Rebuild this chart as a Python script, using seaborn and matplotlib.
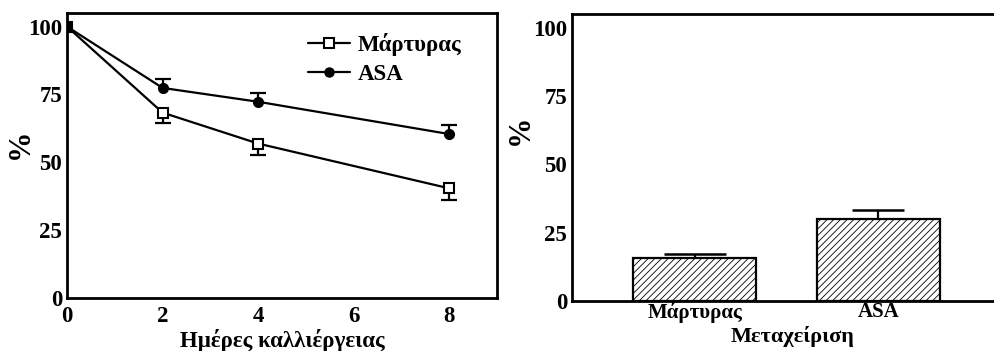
import numpy as np
import pandas as pd
import matplotlib
matplotlib.use("Agg")
import matplotlib.pyplot as plt
import seaborn as sns
from matplotlib.lines import Line2D

# Time course (days of culture) and percentages
days = [0, 2, 4, 8]
control_pct = [100, 68.3, 56.9, 40.4]
asa_pct = [100, 77.4, 72.3, 60.4]
err_days = [2, 4, 8]
control_err = [3.9, 4.3, 4.2]
asa_err = [3.3, 3.3, 3.4]

# Treatment comparison
treatments = ["Μάρτυρας", "ASA"]
treat_pct = [15.6, 30.1]
treat_err = [1.5, 3.2]

sns.set_theme(style="white")
plt.rcParams["font.family"] = ["Liberation Serif", "DejaVu Serif"]
plt.rcParams["font.weight"] = "bold"
plt.rcParams["hatch.linewidth"] = 0.6
for key in ("text.color", "axes.labelcolor", "xtick.color", "ytick.color"):
    plt.rcParams[key] = "black"

fig = plt.figure(figsize=(9.95, 3.51), dpi=100)
ax1 = fig.add_axes([67 / 995, 1 - 298 / 351, 430 / 995, 285 / 351])
ax2 = fig.add_axes([572 / 995, 1 - 301 / 351, 442 / 995, 287 / 351])

fs = 16.5
lw = 1.6

# Left panel: line chart
df = pd.DataFrame({
    "day": days * 2,
    "pct": control_pct + asa_pct,
    "group": ["Μάρτυρας"] * 4 + ["ASA"] * 4,
})
sns.lineplot(data=df, x="day", y="pct", hue="group", style="group",
             palette={"Μάρτυρας": "black", "ASA": "black"},
             markers={"Μάρτυρας": "s", "ASA": "o"},
             dashes={"Μάρτυρας": "", "ASA": ""},
             markersize=7, linewidth=lw, ax=ax1, legend=False)
for line, face in zip(ax1.get_lines(), ["white", "black"]):
    line.set_markerfacecolor(face)
    line.set_markeredgecolor("black")
    line.set_markeredgewidth(1.5)
    line.set_zorder(3)
ax1.get_lines()[1].set_markersize(6.5)

ctrl_at = [control_pct[days.index(d)] for d in err_days]
asa_at = [asa_pct[days.index(d)] for d in err_days]
eb = ax1.errorbar(err_days, ctrl_at, yerr=[control_err, [0] * 3], fmt="none",
                  ecolor="black", elinewidth=lw, capsize=6, capthick=lw, zorder=2)
eb[1][1].set_visible(False)
eb = ax1.errorbar(err_days, asa_at, yerr=[[0] * 3, asa_err], fmt="none",
                  ecolor="black", elinewidth=lw, capsize=6, capthick=lw, zorder=2)
eb[1][0].set_visible(False)

ax1.set_xlim(0, 9)
ax1.set_ylim(0, 105)
ax1.set_xticks([0, 2, 4, 6, 8])
ax1.set_yticks([0, 25, 50, 75, 100])
ax1.set_xlabel("Ημέρες καλλιέργειας", fontsize=fs, fontweight="bold")
ax1.set_ylabel("%", fontsize=22, fontweight="bold")
ax1.yaxis.set_label_coords((35 - 67) / 430, 0.54)
ax1.xaxis.set_label_coords(0.5, -(329 - 298) / 285)

handles = [
    Line2D([], [], color="black", lw=lw, marker="s", markersize=7,
           markerfacecolor="white", markeredgewidth=1.5),
    Line2D([], [], color="black", lw=lw, marker="o", markersize=6.5,
           markerfacecolor="black"),
]
ax1.legend(handles, treatments, loc="upper left", frameon=False,
           prop={"size": fs, "weight": "bold"}, handlelength=1.83,
           handletextpad=0.35, borderpad=0, borderaxespad=0, labelspacing=0.35,
           bbox_to_anchor=((308 - 67) / 430, (298 - 33) / 285))

# Right panel: bar chart
dfb = pd.DataFrame({"treatment": treatments, "pct": treat_pct})
sns.barplot(data=dfb, x="treatment", y="pct", color="white", width=0.67,
            edgecolor="black", linewidth=lw, errorbar=None, ax=ax2, zorder=2)
for patch in ax2.patches:
    patch.set_hatch("/////")
for i, cap in enumerate([22.5, 19]):
    eb = ax2.errorbar([i], [treat_pct[i]], yerr=[[0], [treat_err[i]]],
                      fmt="none", ecolor="black", elinewidth=lw, capsize=cap,
                      capthick=lw + 0.2, zorder=1)
    eb[1][0].set_visible(False)

ax2.set_xlim(-0.67, 1.74)
ax2.set_ylim(0, 105)
ax2.set_yticks([0, 25, 50, 75, 100])
ax2.set_xlabel("Μεταχείριση", fontsize=16, fontweight="bold")
ax2.set_ylabel("%", fontsize=22, fontweight="bold")
ax2.yaxis.set_label_coords((535 - 572) / 442, 0.596)
ax2.xaxis.set_label_coords(0.5, -(326 - 301) / 287)
ax2.spines["right"].set_visible(False)

for ax in (ax1, ax2):
    for s in ax.spines.values():
        s.set_color("black")
        s.set_linewidth(2.0)
    ax.tick_params(axis="both", direction="in", length=6, width=1.6,
                   labelsize=16.5, colors="black", pad=3.5)
    for lab in ax.get_xticklabels() + ax.get_yticklabels():
        lab.set_fontweight("bold")
ax1.tick_params(axis="x", pad=5.5)
ax2.tick_params(axis="x", length=0, pad=1.0, labelsize=15)

fig.savefig("out.png", dpi=100)
